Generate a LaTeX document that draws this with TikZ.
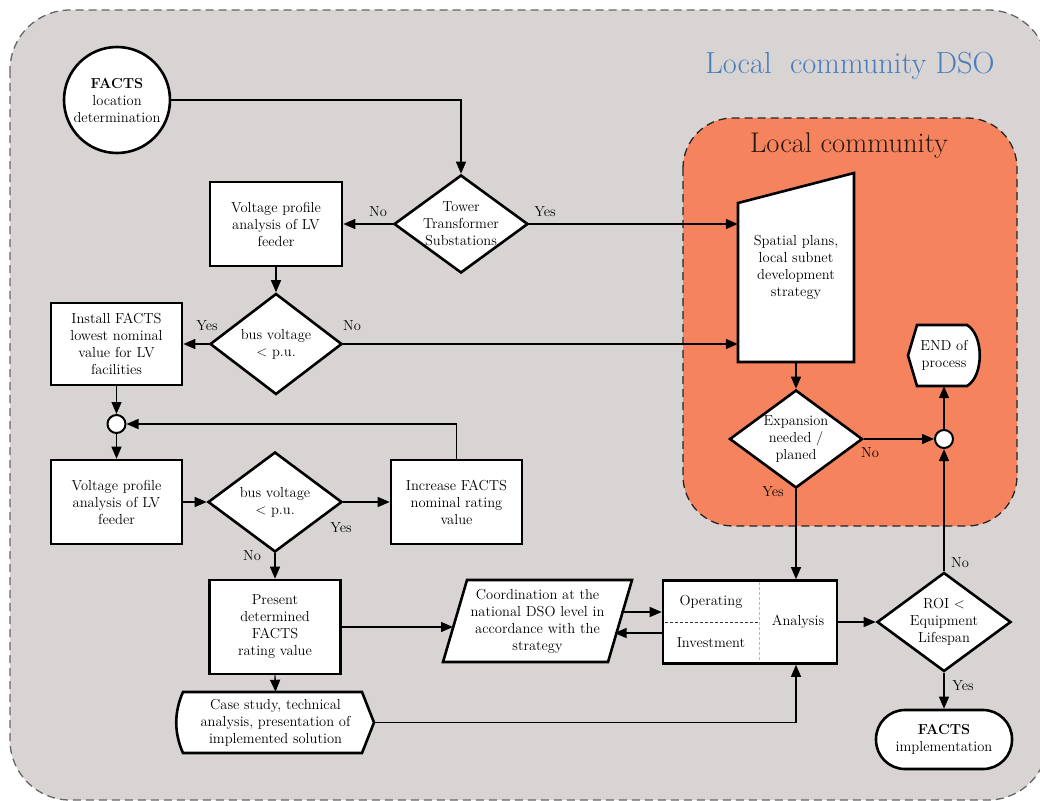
\documentclass[tikz,border=0pt]{standalone}
\usepackage{fontspec}
\usetikzlibrary{arrows.meta,shapes.geometric,calc}
\definecolor{bggray}{RGB}{217,212,212}
\definecolor{commorange}{RGB}{245,132,94}
\definecolor{dsoblue}{RGB}{74,126,187}
\definecolor{commtext}{RGB}{40,22,16}
\begin{document}
\begin{tikzpicture}[x=1pt,y=-1pt,
  font=\fontsize{14.5}{17}\selectfont,
  outl/.style={draw, line width=2.6pt, fill=white, line join=miter},
  procbox/.style={outl, rectangle, align=center, inner sep=0pt},
  decision/.style={outl, diamond, align=center, inner sep=-10pt, aspect=1.37},
  junction/.style={draw, circle, line width=2pt, fill=white, minimum size=18pt, inner sep=0pt},
  txt/.style={align=center, inner sep=0pt},
  conn/.style={line width=1.3pt, -{Triangle[length=12pt,width=10pt]}},
  lbl/.style={inner sep=1pt}]
\useasboundingbox (0,0) rectangle (1040,800);
% regions
\draw[draw=gray!80!black, line width=1.3pt, dash pattern=on 8pt off 5pt, fill=bggray, rounded corners=60pt] (10,10) rectangle (1048,800);
\node[text=dsoblue, font=\fontsize{30.5}{32}\selectfont] (dso) at (850,66) {Local\ \ community DSO};
\draw[draw=black!85, line width=1.3pt, dash pattern=on 8pt off 5pt, fill=commorange, rounded corners=50pt] (683,118) rectangle (1017,526);
\node[text=commtext, font=\fontsize{28.5}{30}\selectfont] (lc) at (849,146) {Local community};

% custom outlines
\draw[outl] (738,362) -- (738,203) -- (854,173) -- (854,362) -- cycle;
\draw[outl] (443,662) -- (467,580) -- (632,580) -- (608,662) -- cycle;
\draw[outl] (183,692) -- (362,692) -- (374,722.5) -- (362,753) -- (183,753) .. controls (174,733) and (174,712) .. (183,692) -- cycle;
\draw[outl] (908,355.5) -- (917,325) -- (967,325) .. controls (984,335) and (984,376) .. (967,386) -- (917,386) -- cycle;

% nodes
\node[outl, circle, align=center, minimum size=106pt, inner sep=0pt] (start) at (117,100) {\textbf{FACTS}\\location\\determination};
\node[decision, minimum width=134pt, minimum height=98pt] (tower) at (461,224) {Tower\\Transformer\\Substations};
\node[procbox, minimum width=132pt, minimum height=84pt] (vp1) at (276,224) {Voltage profile\\analysis of LV\\feeder};
\node[decision, minimum width=132pt, minimum height=101pt] (bus1) at (276,344) {bus voltage\\< p.u.};
\node[procbox, minimum width=131pt, minimum height=82pt] (install) at (116.5,344) {Install FACTS\\lowest nominal\\value for LV\\facilities};
\node[junction] (j1) at (116.5,424) {};
\node[procbox, minimum width=131pt, minimum height=84pt] (vp2) at (116.5,502) {Voltage profile\\analysis of LV\\feeder};
\node[decision, minimum width=134pt, minimum height=100pt] (bus2) at (275,502) {bus voltage\\< p.u.};
\node[procbox, minimum width=131pt, minimum height=84pt] (incr) at (456.5,502) {Increase FACTS\\nominal rating\\value};
\node[procbox, minimum width=131pt, minimum height=94pt] (present) at (275,627) {Present\\determined\\FACTS\\rating value};
\node[txt, minimum width=197pt, minimum height=61pt] (case) at (275.5,722.5) {Case study, technical\\analysis, presentation of\\implemented solution};
\node[txt, minimum width=189pt, minimum height=82pt] (coord) at (537.5,621) {Coordination at the\\national DSO level in\\accordance with the\\strategy};
\node[procbox, minimum width=174pt, minimum height=83pt] (analysis) at (750,622) {};
\draw[gray!55, line width=0.8pt, dash pattern=on 3pt off 2pt] (759,582) -- (759,662);
\draw[black!80, line width=0.8pt, dash pattern=on 3pt off 2pt] (664.5,622) -- (759,622);
\node[txt] (oper) at (711,602) {Operating};
\node[txt] (inv) at (711,643) {Investment};
\node[txt] (anl) at (798,622) {Analysis};
\node[txt, minimum width=116pt, minimum height=189pt] (spatial) at (796,267.5) {Spatial plans,\\local subnet\\development\\strategy};
\node[decision, minimum width=133pt, minimum height=98pt] (exp) at (796,439) {Expansion\\needed /\\planed};
\node[junction] (j2) at (944,439) {};
\node[txt, minimum width=72pt, minimum height=61pt] (endp) at (944,355.5) {END of\\process};
\node[decision, minimum width=134pt, minimum height=99pt] (roi) at (944,622) {ROI <\\Equipment\\Lifespan};
\node[outl, rectangle, rounded corners=29pt, align=center, minimum width=136pt, minimum height=59pt, inner sep=0pt] (impl) at (944,739.5) {\textbf{FACTS}\\implementation};

% coordinates for connector ends
\coordinate (coordin) at (453,627);
\coordinate (coordout1) at (621,612);
\coordinate (coordin2) at (614.5,633);

% connectors
\draw[conn] (start.east) -| (tower.north);
\draw[conn] (tower.west) -- (vp1.east);
\draw[conn] (tower.east) -- (tower.east -| spatial.west);
\draw[conn] (vp1.south) -- (bus1.north);
\draw[conn] (bus1.west) -- (install.east);
\draw[conn] (bus1.east) -- (bus1.east -| spatial.west);
\draw[conn] (install.south) -- (j1.north);
\draw[conn] (j1.south) -- (vp2.north);
\draw[conn] (vp2.east) -- (bus2.west);
\draw[conn] (bus2.east) -- (incr.west);
\draw[conn] (incr.north) |- (j1.east);
\draw[conn] (bus2.south) -- (present.north);
\draw[conn] (present.south) -- (case.north);
\draw[conn] (present.east |- coordin) -- (coordin);
\draw[conn] (coordout1) -- (coordout1 -| analysis.west);
\draw[conn] (coordin2 -| analysis.west) -- (coordin2);
\draw[conn] (case.east) -| (exp.south |- analysis.south);
\draw[conn] (spatial.south) -- (exp.north);
\draw[conn] (exp.east) -- (j2.west);
\draw[conn] (exp.south) -- (exp.south |- analysis.north);
\draw[conn] (analysis.east) -- (roi.west);
\draw[conn] (roi.north) -- (j2.south);
\draw[conn] (j2.north) -- (endp.south);
\draw[conn] (roi.south) -- (impl.north);

% labels
\node[lbl] (l1) at (378,212) {No};
\node[lbl] (l2) at (545,212) {Yes};
\node[lbl] (l3) at (207,326) {Yes};
\node[lbl] (l4) at (352,326) {No};
\node[lbl] (l5) at (341,528) {Yes};
\node[lbl] (l6) at (252,556) {No};
\node[lbl] (l7) at (870,453) {No};
\node[lbl] (l8) at (773,492) {Yes};
\node[lbl] (l9) at (960,563) {No};
\node[lbl] (l10) at (963,686) {Yes};
\end{tikzpicture}
\end{document}
